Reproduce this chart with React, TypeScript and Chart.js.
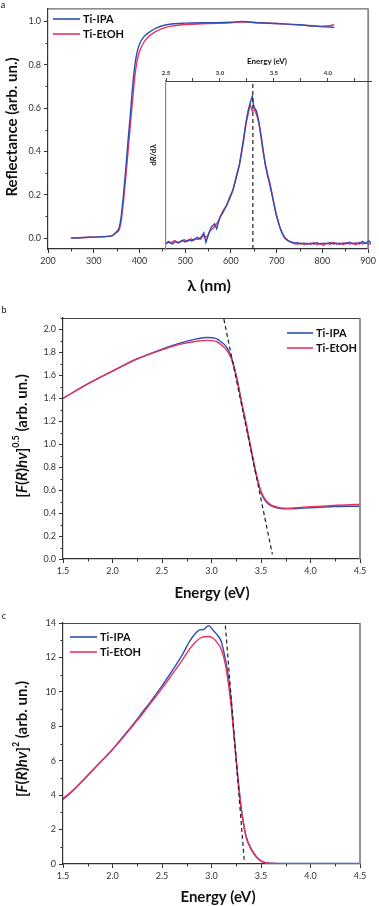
import React, { useEffect, useRef } from 'react';
import { Chart, registerables } from 'chart.js';
Chart.register(...registerables);

const FAMILY = 'Lato, "Open Sans", "DejaVu Sans", sans-serif';
const BLUE = '#2d4fb0';
const RED = '#ee3060';
const DARK = '#222';

// ---------- Panel a: reflectance vs wavelength ----------
const lambdaNm = [250, 270, 290, 310, 330, 340, 345, 350, 355, 360, 365, 370, 375, 380, 385, 390, 395, 400, 410, 420, 435, 450, 470, 500, 550, 600, 625, 650, 700, 750, 780, 800, 815, 826];
const reflIPA = [0.0, 0.002, 0.004, 0.006, 0.008, 0.012, 0.02, 0.03, 0.045, 0.1, 0.2, 0.32, 0.45, 0.57, 0.7, 0.8, 0.86, 0.895, 0.93, 0.948, 0.968, 0.98, 0.988, 0.992, 0.994, 0.996, 1.0, 0.995, 0.99, 0.985, 0.978, 0.975, 0.974, 0.972];
const reflEtOH = [0.0, 0.002, 0.004, 0.006, 0.008, 0.011, 0.018, 0.026, 0.035, 0.08, 0.17, 0.28, 0.4, 0.52, 0.64, 0.75, 0.82, 0.86, 0.905, 0.93, 0.953, 0.967, 0.978, 0.985, 0.99, 0.994, 0.997, 0.995, 0.99, 0.983, 0.98, 0.978, 0.98, 0.985];
const xTicksA = [200, 300, 400, 500, 600, 700, 800, 900];

// ---------- Inset: dR/dλ vs energy ----------
const insetE_IPA = [2.5, 2.53, 2.56, 2.59, 2.62, 2.65, 2.68, 2.71, 2.74, 2.77, 2.8, 2.83, 2.85, 2.87, 2.9, 2.92, 2.95, 2.97, 3.0, 3.03, 3.06, 3.09, 3.12, 3.15, 3.18, 3.2, 3.22, 3.24, 3.26, 3.28, 3.3, 3.31, 3.32, 3.34, 3.36, 3.38, 3.4, 3.42, 3.44, 3.46, 3.48, 3.5, 3.52, 3.54, 3.56, 3.58, 3.6, 3.63, 3.66, 3.69, 3.72, 3.75, 3.78, 3.81, 3.84, 3.87, 3.9, 3.93, 3.96, 3.99, 4.02, 4.05, 4.08, 4.11, 4.14, 4.17, 4.2, 4.23, 4.26, 4.29, 4.32, 4.35, 4.38, 4.4];
const insetIPA = [0.035, 0.04, 0.03, 0.045, 0.038, 0.05, 0.042, 0.055, 0.048, 0.062, 0.058, 0.075, 0.095, 0.04, 0.1, 0.13, 0.15, 0.12, 0.19, 0.22, 0.26, 0.3, 0.35, 0.42, 0.5, 0.58, 0.66, 0.75, 0.82, 0.87, 0.91, 0.86, 0.84, 0.82, 0.76, 0.68, 0.59, 0.5, 0.44, 0.39, 0.33, 0.27, 0.21, 0.16, 0.12, 0.09, 0.065, 0.05, 0.042, 0.036, 0.038, 0.03, 0.036, 0.028, 0.035, 0.03, 0.037, 0.029, 0.035, 0.031, 0.038, 0.03, 0.034, 0.028, 0.036, 0.031, 0.04, 0.032, 0.036, 0.03, 0.045, 0.033, 0.048, 0.035];
const insetE_EtOH = [2.5, 2.52, 2.55, 2.58, 2.61, 2.64, 2.67, 2.7, 2.73, 2.76, 2.79, 2.82, 2.85, 2.88, 2.91, 2.94, 2.97, 3.0, 3.03, 3.06, 3.09, 3.12, 3.15, 3.18, 3.2, 3.22, 3.24, 3.26, 3.28, 3.29, 3.3, 3.32, 3.34, 3.36, 3.38, 3.4, 3.42, 3.44, 3.46, 3.48, 3.5, 3.52, 3.54, 3.56, 3.58, 3.6, 3.63, 3.66, 3.69, 3.72, 3.75, 3.78, 3.81, 3.84, 3.87, 3.9, 3.93, 3.96, 3.99, 4.02, 4.05, 4.08, 4.11, 4.14, 4.17, 4.2, 4.23, 4.26, 4.29, 4.32, 4.35, 4.38, 4.4];
const insetEtOH = [0.03, 0.045, 0.038, 0.05, 0.035, 0.048, 0.055, 0.045, 0.06, 0.052, 0.07, 0.058, 0.08, 0.07, 0.11, 0.125, 0.15, 0.185, 0.23, 0.255, 0.31, 0.35, 0.43, 0.5, 0.57, 0.65, 0.74, 0.8, 0.86, 0.84, 0.82, 0.83, 0.8, 0.75, 0.67, 0.58, 0.51, 0.45, 0.4, 0.34, 0.27, 0.21, 0.165, 0.12, 0.09, 0.07, 0.05, 0.04, 0.033, 0.028, 0.036, 0.025, 0.034, 0.028, 0.038, 0.026, 0.034, 0.022, 0.036, 0.027, 0.04, 0.03, 0.035, 0.025, 0.038, 0.029, 0.034, 0.026, 0.04, 0.03, 0.036, 0.028, 0.033];
const insetPeakE = 3.305;

// ---------- Panel b: [F(R)hν]^0.5 ----------
const energyB = [1.5, 1.75, 2.0, 2.25, 2.5, 2.7, 2.85, 2.95, 3.05, 3.1, 3.15, 3.2, 3.23, 3.26, 3.3, 3.35, 3.4, 3.45, 3.5, 3.55, 3.6, 3.65, 3.7, 3.75, 3.8, 3.9, 4.0, 4.2, 4.4, 4.5];
const bIPA = [1.4, 1.525, 1.637, 1.745, 1.828, 1.885, 1.918, 1.93, 1.92, 1.89, 1.85, 1.76, 1.67, 1.56, 1.38, 1.17, 0.95, 0.74, 0.58, 0.5, 0.465, 0.448, 0.44, 0.437, 0.437, 0.442, 0.447, 0.455, 0.46, 0.46];
const bEtOH = [1.4, 1.525, 1.637, 1.743, 1.823, 1.875, 1.898, 1.905, 1.895, 1.865, 1.825, 1.745, 1.66, 1.555, 1.38, 1.18, 0.96, 0.75, 0.59, 0.51, 0.472, 0.455, 0.445, 0.442, 0.443, 0.45, 0.455, 0.465, 0.473, 0.475];
const bTangentE = [3.125, 3.615];
const bTangentY = [2.09, 0.04];

// ---------- Panel c: [F(R)hν]^2 ----------
const energyC = [1.5, 1.6, 1.7, 1.8, 1.9, 2.0, 2.1, 2.2, 2.3, 2.4, 2.5, 2.6, 2.7, 2.78, 2.84, 2.88, 2.92, 2.97, 3.02, 3.06, 3.1, 3.14, 3.17, 3.2, 3.22, 3.25, 3.28, 3.31, 3.35, 3.4, 3.45, 3.5, 3.55, 3.6, 3.8, 4.0, 4.5];
const cIPA = [3.75, 4.25, 4.85, 5.45, 6.05, 6.65, 7.35, 8.05, 8.8, 9.55, 10.35, 11.2, 12.1, 12.95, 13.4, 13.6, 13.62, 13.85, 13.55, 13.3, 12.9, 11.9, 10.9, 9.4, 8.0, 6.05, 4.25, 2.85, 1.6, 0.9, 0.45, 0.18, 0.07, 0.04, 0.03, 0.03, 0.03];
const cEtOH = [3.8, 4.28, 4.85, 5.45, 6.05, 6.65, 7.3, 8.0, 8.7, 9.45, 10.2, 11.0, 11.8, 12.5, 12.9, 13.1, 13.2, 13.22, 13.1, 12.85, 12.45, 11.6, 10.5, 9.1, 7.9, 6.0, 4.2, 2.8, 1.55, 0.85, 0.42, 0.16, 0.06, 0.03, 0.02, 0.02, 0.02];
const cTangentE = [3.14, 3.33];
const cTangentY = [13.85, 0.25];

const seriesNames = ['Ti-IPA', 'Ti-EtOH'];

type Seg = { t: string; i?: boolean; sup?: boolean };
type TextItem = { segs: Seg[]; x: number; y: number; rot?: number; size: number; bold?: boolean; color?: string };

function pts(xs: number[], ys: number[]) {
  return xs.map((x, i) => ({ x, y: ys[i] }));
}

function drawRich(ctx: CanvasRenderingContext2D, it: TextItem) {
  const w = it.bold === false ? 'normal' : 'bold';
  const fontFor = (s: Seg) => `${s.i ? 'italic ' : ''}${w} ${s.sup ? Math.round(it.size * 0.62) : it.size}px ${FAMILY}`;
  ctx.save();
  ctx.translate(it.x, it.y);
  ctx.rotate(it.rot || 0);
  let total = 0;
  for (const s of it.segs) {
    ctx.font = fontFor(s);
    total += ctx.measureText(s.t).width;
  }
  let cx = -total / 2;
  ctx.textBaseline = 'middle';
  ctx.textAlign = 'left';
  ctx.fillStyle = it.color || '#111';
  for (const s of it.segs) {
    ctx.font = fontFor(s);
    ctx.fillText(s.t, cx, s.sup ? -it.size * 0.4 : 0);
    cx += ctx.measureText(s.t).width;
  }
  ctx.restore();
}

const decor = {
  id: 'decor',
  afterDraw(chart: any, _args: any, o: any) {
    const ctx: CanvasRenderingContext2D = chart.ctx;
    const ca = chart.chartArea;
    ctx.save();
    if (o.frame) {
      ctx.lineWidth = 1;
      ctx.strokeStyle = '#444';
      ctx.beginPath();
      ctx.moveTo(ca.left, ca.top + 0.5);
      ctx.lineTo(ca.right, ca.top + 0.5);
      ctx.stroke();
      ctx.lineWidth = 1.8;
      ctx.strokeStyle = '#888';
      ctx.beginPath();
      ctx.moveTo(ca.right, ca.top);
      ctx.lineTo(ca.right, ca.bottom);
      ctx.stroke();
    }
    ctx.strokeStyle = '#333';
    ctx.lineWidth = 1;
    if (o.minorX) {
      const s = chart.scales.x;
      const st = o.minorX;
      for (let i = Math.ceil(s.min / st - 1e-9); i <= Math.floor(s.max / st + 1e-9); i++) {
        if (Math.abs(i % 2) !== 1) continue;
        const px = Math.round(s.getPixelForValue(i * st)) + 0.5;
        ctx.beginPath();
        ctx.moveTo(px, ca.bottom);
        ctx.lineTo(px, ca.bottom + 2.5);
        ctx.stroke();
      }
    }
    if (o.minorY) {
      const s = chart.scales.y;
      const st = o.minorY;
      for (let i = Math.ceil(s.min / st - 1e-9); i <= Math.floor(s.max / st + 1e-9); i++) {
        if (Math.abs(i % 2) !== 1) continue;
        const py = Math.round(s.getPixelForValue(i * st)) + 0.5;
        ctx.beginPath();
        ctx.moveTo(ca.left - 2.5, py);
        ctx.lineTo(ca.left, py);
        ctx.stroke();
      }
    }
    if (o.legend) {
      const L = o.legend;
      L.items.forEach((item: any, k: number) => {
        const y = L.y + k * L.dy;
        ctx.strokeStyle = item.color;
        ctx.lineWidth = 1.6;
        ctx.beginPath();
        ctx.moveTo(L.x1, y);
        ctx.lineTo(L.x2, y);
        ctx.stroke();
        ctx.fillStyle = '#111';
        ctx.font = `bold 11px ${FAMILY}`;
        ctx.textBaseline = 'middle';
        ctx.textAlign = 'left';
        ctx.fillText(item.label, L.x2 + 3, y);
      });
    }
    if (o.texts) {
      for (const t of o.texts as TextItem[]) drawRich(ctx, t);
    }
    ctx.restore();
  },
};

function tickFont(size = 9) {
  return { family: FAMILY, size };
}

function lineDs(label: string, data: any[], color: string, smooth = true) {
  return {
    label,
    data,
    borderColor: color,
    backgroundColor: color,
    borderWidth: 1.4,
    pointRadius: 0,
    fill: false,
    cubicInterpolationMode: smooth ? 'monotone' : 'default',
    tension: smooth ? 0.4 : 0,
  };
}

function dashDs(data: any[]) {
  return {
    label: 'tangent',
    data,
    borderColor: DARK,
    borderWidth: 1.2,
    borderDash: [4, 3],
    pointRadius: 0,
    fill: false,
    tension: 0,
  };
}

function axisBase() {
  return {
    grid: { drawOnChartArea: false, drawTicks: true, tickLength: 4, color: '#333', lineWidth: 1 },
    border: { display: true, color: '#333', width: 1.2 },
  };
}

function energyX(height: number) {
  return {
    type: 'linear',
    min: 1.5,
    max: 4.5,
    ...axisBase(),
    ticks: { stepSize: 0.5, font: tickFont(), color: '#333', maxRotation: 0, autoSkip: false, callback: (v: any) => Number(v).toFixed(1) },
    afterFit: (s: any) => { s.height = height; },
  };
}

const fRhv: Seg[] = [
  { t: '[' }, { t: 'F', i: true }, { t: '(' }, { t: 'R', i: true }, { t: ')' }, { t: 'h', i: true }, { t: '\u03BD', i: true }, { t: ']' },
];

export default function App() {
  const aRef = useRef<HTMLCanvasElement>(null);
  const insetRef = useRef<HTMLCanvasElement>(null);
  const bRef = useRef<HTMLCanvasElement>(null);
  const cRef = useRef<HTMLCanvasElement>(null);

  useEffect(() => {
    document.body.style.margin = '0';
    const charts: Chart[] = [];

    charts.push(new Chart(aRef.current as HTMLCanvasElement, {
      type: 'line',
      data: {
        datasets: [
          lineDs(seriesNames[0], pts(lambdaNm, reflIPA), BLUE),
          lineDs(seriesNames[1], pts(lambdaNm, reflEtOH), RED),
        ] as any,
      },
      options: {
        animation: false,
        responsive: false,
        layout: { padding: { left: 0, right: 8, top: 6, bottom: 0 } },
        scales: {
          x: {
            type: 'linear', min: 200, max: 900, ...axisBase(),
            afterBuildTicks: (s: any) => { s.ticks = xTicksA.map((v) => ({ value: v })); },
            ticks: { font: tickFont(), color: '#333', maxRotation: 0, autoSkip: false, callback: (v: any) => String(v) },
            afterFit: (s: any) => { s.height = 51; },
          },
          y: {
            type: 'linear', min: -0.05, max: 1.06, ...axisBase(),
            ticks: { stepSize: 0.2, includeBounds: false, font: tickFont(), color: '#333', callback: (v: any) => Number(v).toFixed(1) },
            afterFit: (s: any) => { s.width = 48; },
          },
        } as any,
        plugins: {
          legend: { display: false },
          tooltip: { enabled: false },
          decor: {
            frame: true, minorX: 50, minorY: 0.1,
            legend: { x1: 53, x2: 80, y: 19, dy: 15, items: [{ label: seriesNames[0], color: BLUE }, { label: seriesNames[1], color: RED }] },
            texts: [
              { segs: [{ t: 'Reflectance (arb. un.)' }], x: 12, y: 127, rot: -Math.PI / 2, size: 15 },
              { segs: [{ t: '\u03BB (nm)' }], x: 209, y: 286, size: 16 },
              { segs: [{ t: 'a' }], x: 3, y: 5, size: 9, bold: false },
            ],
          },
        } as any,
      },
      plugins: [decor],
    }));

    charts.push(new Chart(insetRef.current as HTMLCanvasElement, {
      type: 'line',
      data: {
        datasets: [
          dashDs([{ x: insetPeakE, y: 0 }, { x: insetPeakE, y: 1 }]),
          lineDs(seriesNames[0], pts(insetE_IPA, insetIPA), BLUE, false),
          lineDs(seriesNames[1], pts(insetE_EtOH, insetEtOH), RED, false),
        ] as any,
      },
      options: {
        animation: false,
        responsive: false,
        layout: { padding: { left: 0, right: 8, top: 0, bottom: 6 } },
        scales: {
          x: {
            type: 'linear', position: 'top', min: 2.5, max: 4.4,
            grid: { drawOnChartArea: false, drawTicks: true, tickLength: 3, color: '#444' },
            border: { display: true, color: '#444', width: 1 },
            ticks: {
              stepSize: 0.25, includeBounds: false, padding: 1, maxRotation: 0, autoSkip: false,
              font: { family: FAMILY, size: 6, weight: 'bold' }, color: '#333',
              callback: (v: any) => (Math.abs(v * 2 - Math.round(v * 2)) < 1e-6 ? Number(v).toFixed(1) : ''),
            },
            afterFit: (s: any) => { s.height = 31; },
          },
          y: {
            type: 'linear', min: 0, max: 1,
            grid: { display: false },
            border: { display: true, color: '#888', width: 1.2 },
            ticks: { display: false },
            afterFit: (s: any) => { s.width = 26; },
          },
        } as any,
        plugins: {
          legend: { display: false },
          tooltip: { enabled: false },
          decor: {
            texts: [
              { segs: [{ t: 'Energy (eV)' }], x: 127, y: 11, size: 8 },
              { segs: [{ t: 'd' }, { t: 'R', i: true }, { t: '/d' }, { t: '\u03BB' }], x: 13, y: 105, rot: -Math.PI / 2, size: 8 },
            ],
          },
        } as any,
      },
      plugins: [decor],
    }));

    charts.push(new Chart(bRef.current as HTMLCanvasElement, {
      type: 'line',
      data: {
        datasets: [
          dashDs(pts(bTangentE, bTangentY)),
          lineDs(seriesNames[1], pts(energyB, bEtOH), RED),
          lineDs(seriesNames[0], pts(energyB, bIPA), BLUE),
        ] as any,
      },
      options: {
        animation: false,
        responsive: false,
        layout: { padding: { left: 0, right: 19, top: 18, bottom: 0 } },
        scales: {
          x: energyX(46),
          y: {
            type: 'linear', min: 0, max: 2.1, ...axisBase(),
            ticks: { stepSize: 0.2, includeBounds: false, font: tickFont(), color: '#333', callback: (v: any) => Number(v).toFixed(1) },
            afterFit: (s: any) => { s.width = 63; },
          },
        } as any,
        plugins: {
          legend: { display: false },
          tooltip: { enabled: false },
          decor: {
            frame: true, minorX: 0.25, minorY: 0.1,
            legend: { x1: 287, x2: 313, y: 33, dy: 15, items: [{ label: seriesNames[0], color: BLUE }, { label: seriesNames[1], color: RED }] },
            texts: [
              { segs: [...fRhv, { t: '0.5', sup: true }, { t: ' (arb. un.)' }], x: 22, y: 136, rot: -Math.PI / 2, size: 15 },
              { segs: [{ t: 'Energy (eV)' }], x: 212, y: 293, size: 15 },
              { segs: [{ t: 'b' }], x: 4, y: 10, size: 9, bold: false },
            ],
          },
        } as any,
      },
      plugins: [decor],
    }));

    charts.push(new Chart(cRef.current as HTMLCanvasElement, {
      type: 'line',
      data: {
        datasets: [
          dashDs(pts(cTangentE, cTangentY)),
          lineDs(seriesNames[1], pts(energyC, cEtOH), RED),
          lineDs(seriesNames[0], pts(energyC, cIPA), BLUE),
        ] as any,
      },
      options: {
        animation: false,
        responsive: false,
        layout: { padding: { left: 0, right: 19, top: 18, bottom: 0 } },
        scales: {
          x: energyX(42),
          y: {
            type: 'linear', min: 0, max: 14, ...axisBase(),
            ticks: { stepSize: 2, font: tickFont(), color: '#333', callback: (v: any) => String(v) },
            afterFit: (s: any) => { s.width = 63; },
          },
        } as any,
        plugins: {
          legend: { display: false },
          tooltip: { enabled: false },
          decor: {
            frame: true, minorX: 0.25, minorY: 1,
            legend: { x1: 70, x2: 97, y: 32, dy: 15, items: [{ label: seriesNames[0], color: BLUE }, { label: seriesNames[1], color: RED }] },
            texts: [
              { segs: [...fRhv, { t: '2', sup: true }, { t: ' (arb. un.)' }], x: 22, y: 134, rot: -Math.PI / 2, size: 15 },
              { segs: [{ t: 'Energy (eV)' }], x: 218, y: 292, size: 15 },
              { segs: [{ t: 'c' }], x: 4, y: 11, size: 9, bold: false },
            ],
          },
        } as any,
      },
      plugins: [decor],
    }));

    return () => charts.forEach((c) => c.destroy());
  }, []);

  return (
    <div style={{ position: 'absolute', left: 0, top: 0, width: 379, height: 906, background: '#fff', overflow: 'hidden' }}>
      <canvas ref={aRef} width={379} height={300} style={{ position: 'absolute', left: 0, top: 0 }} />
      <canvas ref={insetRef} width={239} height={205} style={{ position: 'absolute', left: 140, top: 50 }} />
      <canvas ref={bRef} width={379} height={305} style={{ position: 'absolute', left: 0, top: 300 }} />
      <canvas ref={cRef} width={379} height={301} style={{ position: 'absolute', left: 0, top: 605 }} />
    </div>
  );
}
